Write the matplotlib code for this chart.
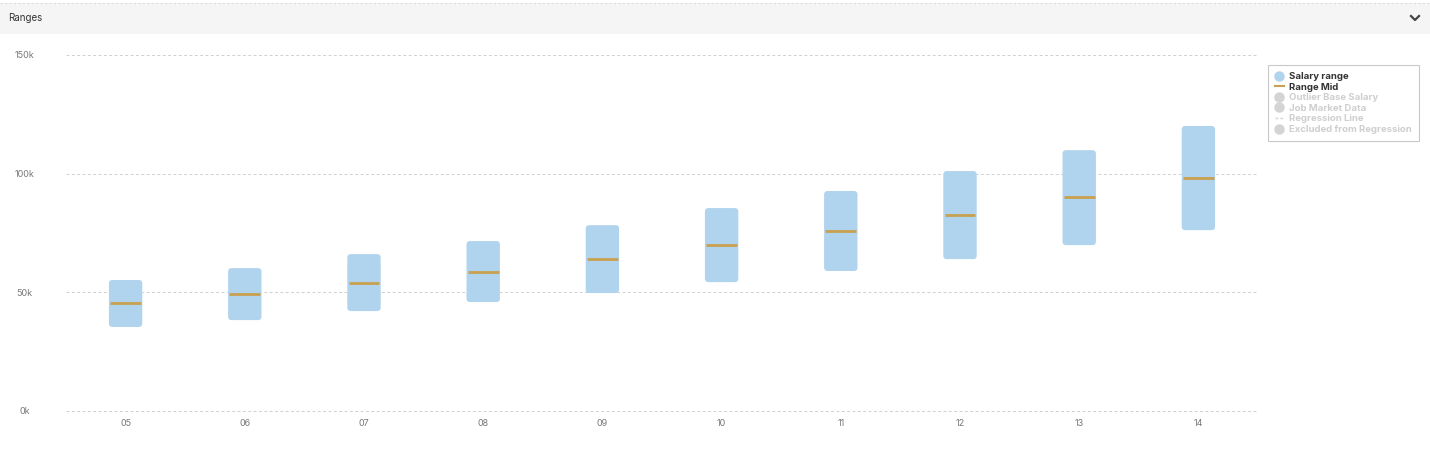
import matplotlib.pyplot as plt
from matplotlib.patches import FancyBboxPatch, Rectangle
from matplotlib.lines import Line2D

grades = ["05", "06", "07", "08", "09", "10", "11", "12", "13", "14"]
range_min = [35400, 38300, 42100, 45900, 49700, 54300, 59000, 64000, 69900, 76200]
range_max = [55200, 60200, 66100, 71600, 78300, 85500, 92700, 101100, 109900, 120100]
range_mid = [45500, 49300, 53900, 58500, 64000, 69900, 75800, 82600, 90100, 98100]
y_ticks = [0, 50000, 100000, 150000]
y_labels = ["0k", "50k", "100k", "150k"]

BLUE = "#b0d3ee"
GOLD = "#c9a04f"

plt.rcParams['font.family'] = ['Inter', 'DejaVu Sans']
fig = plt.figure(figsize=(14.3, 4.55), dpi=100)

# header band
fig.patches.append(Rectangle((0, 1 - 34 / 455), 1, 31 / 455, transform=fig.transFigure,
                             facecolor="#f5f5f5", edgecolor="none", zorder=0))
fig.add_artist(Line2D([0, 1], [1 - 3 / 455] * 2, transform=fig.transFigure,
                      color="#dddddd", lw=0.8, ls=(0, (2, 2))))
fig.text(8 / 1430, 1 - 18 / 455, "Ranges", fontsize=7, color="#333333", va="center")
fig.add_artist(Line2D([1411 / 1430, 1415 / 1430, 1419 / 1430],
                      [1 - 16 / 455, 1 - 20 / 455, 1 - 16 / 455],
                      transform=fig.transFigure, color="#444444", lw=1.6))

ax = fig.add_axes([66 / 1430, 44 / 455, 1192 / 1430, 356 / 455])
x = list(range(len(grades)))
heights = [hi - lo for lo, hi in zip(range_min, range_max)]
bars = ax.bar(x, heights, bottom=range_min, width=0.28, color=BLUE)
ax.set_xlim(-0.5, len(grades) - 0.5)
ax.set_ylim(0, 150000)

# rounded bars
aspect = (150000 / 356) / (len(grades) / 1192)
for b in bars:
    bb = b.get_bbox()
    p = FancyBboxPatch((bb.x0, bb.y0), bb.width, bb.height,
                       boxstyle="round,pad=0,rounding_size=0.03",
                       mutation_aspect=aspect, facecolor=BLUE, edgecolor="none", zorder=2)
    ax.add_patch(p)
    b.remove()

ax.hlines(range_mid, [i - 0.13 for i in x], [i + 0.13 for i in x], colors=GOLD, lw=2, zorder=3)

ax.set_yticks(y_ticks)
ax.set_yticklabels(y_labels)
ax.set_xticks(x)
ax.set_xticklabels(grades)
ax.tick_params(length=0, labelsize=6.5, colors="#777777")
ax.tick_params(axis="y", pad=30)
ax.tick_params(axis="x", pad=6)
for lab in ax.get_yticklabels():
    lab.set_horizontalalignment("center")
for s in ax.spines.values():
    s.set_visible(False)
ax.yaxis.grid(True, color="#d0d0d0", ls=(0, (3, 2.5)), lw=0.7)
ax.set_axisbelow(True)
for gl in ax.get_ygridlines():
    gl.set_clip_on(False)

handles = [
    Line2D([], [], marker="o", ls="none", color=BLUE, markersize=6.5),
    Line2D([], [], color=GOLD, lw=1.5),
    Line2D([], [], marker="o", ls="none", color="#d4d4d4", markersize=6.5),
    Line2D([], [], marker="o", ls="none", color="#d4d4d4", markersize=6.5),
    Line2D([], [], color="#d4d4d4", lw=1, ls=(0, (2, 1.5))),
    Line2D([], [], marker="o", ls="none", color="#d4d4d4", markersize=6.5),
]
names = ["Salary range", "Range Mid", "Outlier Base Salary", "Job Market Data",
         "Regression Line", "Excluded from Regression"]
leg = fig.legend(handles, names, loc="upper left", bbox_to_anchor=(1268 / 1430, 1 - 65 / 455),
                 borderaxespad=0, frameon=True, fontsize=6.9, handlelength=0.9,
                 handletextpad=0.6, labelspacing=0.17, borderpad=0.72, fancybox=False,
                 edgecolor="#bbbbbb")
leg.get_frame().set_linewidth(0.8)
for i, t in enumerate(leg.get_texts()):
    t.set_fontweight("bold")
    t.set_color("#333333" if i < 2 else "#cfcfcf")

fig.savefig("out.png", dpi=100, facecolor="white")
